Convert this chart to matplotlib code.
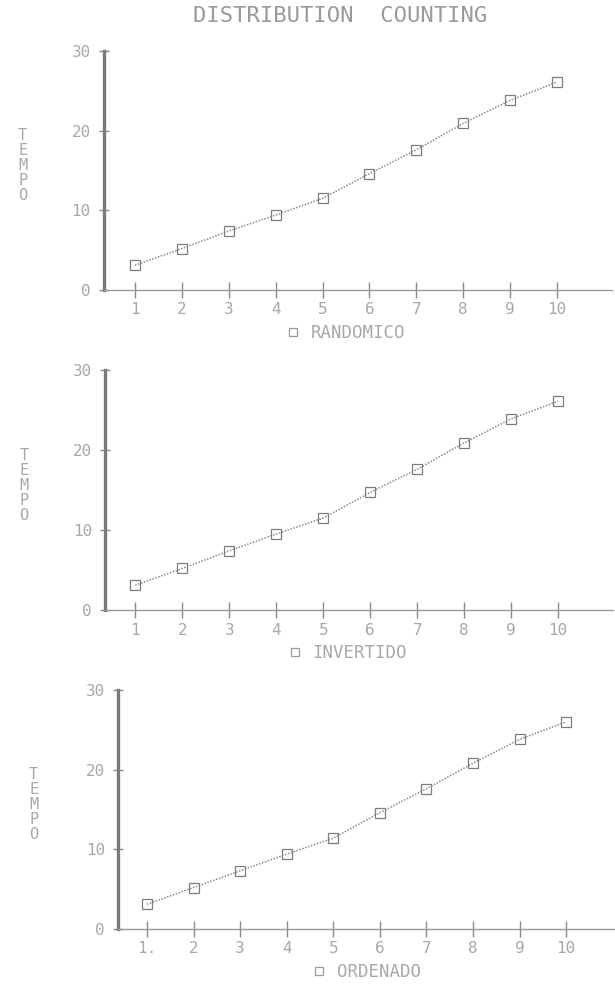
import matplotlib
matplotlib.use("Agg")
import matplotlib.pyplot as plt

# tamanho da entrada (x) e tempo medido para cada tipo de arquivo
tamanho = [1, 2, 3, 4, 5, 6, 7, 8, 9, 10]
randomico = [3.1, 5.2, 7.4, 9.4, 11.5, 14.6, 17.6, 20.9, 23.8, 26.1]
invertido = [3.1, 5.2, 7.4, 9.5, 11.5, 14.7, 17.6, 20.9, 23.9, 26.1]
ordenado = [3.1, 5.2, 7.3, 9.4, 11.4, 14.6, 17.6, 20.8, 23.8, 26.0]
y_ticks = [0, 10, 20, 30]
x_tick_labels = ["1", "2", "3", "4", "5", "6", "7", "8", "9", "10"]
x_tick_labels_ord = ["1.", "2", "3", "4", "5", "6", "7", "8", "9", "10"]

MONO = "DejaVu Sans Mono"
TXT = "#a8a8a8"
LINE = "#8c8c8c"

plt.rcParams["font.family"] = MONO

fig = plt.figure(figsize=(6.15, 9.84), dpi=100)
fig.patch.set_facecolor("white")

fig.text(0.553, 0.984, "DISTRIBUTION  COUNTING", ha="center", va="center",
         fontsize=16, color="#9a9a9a")

panels = [
    # (rect, data, label, xlim, tick labels, ylabel x, legend x)
    ([0.169, 0.7053, 0.826, 0.2429], randomico, "RANDOMICO", (0.34, 11.17),
     x_tick_labels, -0.16, 0.476),
    ([0.171, 0.3800, 0.826, 0.2440], invertido, "INVERTIDO", (0.36, 11.17),
     x_tick_labels, -0.16, 0.476),
    ([0.192, 0.0559, 0.808, 0.2429], ordenado, "ORDENADO", (0.38, 11.05),
     x_tick_labels_ord, -0.17, 0.50),
]

for rect, vals, label, xlim, xlabels, ylab_x, leg_x in panels:
    ax = fig.add_axes(rect)
    ax.plot(tamanho, vals, linestyle=(0, (1, 1)), linewidth=1.1, color=LINE,
            marker="s", markersize=7, markerfacecolor="none",
            markeredgecolor="#7d7d7d", markeredgewidth=0.9, label=label)

    ax.set_xlim(*xlim)
    ax.set_ylim(0, 30)
    ax.set_xticks(tamanho)
    ax.set_xticklabels(xlabels)
    ax.set_yticks(y_ticks)

    for side in ("top", "right"):
        ax.spines[side].set_visible(False)
    ax.spines["left"].set_linewidth(2.4)
    ax.spines["left"].set_color("#7a7a7a")
    ax.spines["bottom"].set_linewidth(1.0)
    ax.spines["bottom"].set_color("#9a9a9a")

    ax.tick_params(axis="x", direction="inout", length=12, width=1.0,
                   color="#8a8a8a", labelsize=11.5, labelcolor=TXT, pad=3)
    ax.tick_params(axis="y", direction="inout", length=7, width=1.0,
                   color="#8a8a8a", labelsize=11.5, labelcolor=TXT, pad=6)

    ax.set_ylabel("T\nE\nM\nP\nO", rotation=0, fontsize=11, color=TXT,
                  linespacing=1.0, va="center", ha="center")
    ax.yaxis.set_label_coords(ylab_x, 0.52)

    leg = ax.legend(loc="center", bbox_to_anchor=(leg_x, -0.18),
                    frameon=False, handlelength=0.8, handletextpad=0.6,
                    fontsize=12.5, labelcolor=TXT, borderaxespad=0)
    for h in leg.legend_handles:
        h.set_linestyle("none")
        h.set_markersize(6)
        h.set_markeredgecolor("#9a9a9a")

fig.savefig("out.png", dpi=100)
